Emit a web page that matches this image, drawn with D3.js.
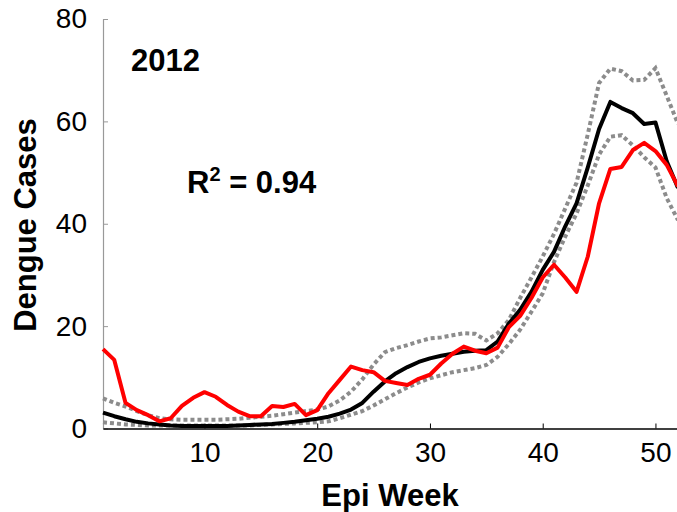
<!DOCTYPE html>
<html>
<head>
<meta charset="utf-8">
<script src="https://cdn.jsdelivr.net/npm/d3@7"></script>
<style>
  body { margin: 0; background: #fff; }
  #graphicContainer { width: 677px; height: 512px; }
  text { font-family: "Liberation Sans", Arial, sans-serif; }
</style>
</head>
<body>
<div id="graphicContainer"></div>
<script>

// epi weeks 1..52
var weeks = d3.range(1, 53);

// observed dengue cases (red)
var observed = [15.5, 13.4, 5.0, 3.6, 2.6, 1.4, 2.0, 4.4, 6.0, 7.1,
                6.2, 4.6, 3.3, 2.4, 2.4, 4.4, 4.2, 4.8, 2.6, 3.6,
                6.9, 9.5, 12.1, 11.4, 11.0, 9.3, 8.9, 8.5, 9.7, 10.5,
                12.7, 14.6, 16.0, 15.2, 14.7, 15.8, 19.8, 22.0, 25.5, 29.5,
                32.0, 29.5, 26.7, 33.6, 44.0, 50.7, 51.1, 54.4, 55.8, 54.2,
                51.5, 47.3];

// model mean (black)
var model = [3.1, 2.4, 1.8, 1.3, 1.0, 0.8, 0.6, 0.5, 0.5, 0.5,
             0.5, 0.5, 0.6, 0.7, 0.8, 0.9, 1.1, 1.3, 1.6, 1.9,
             2.3, 2.9, 3.7, 5.0, 7.2, 9.2, 10.8, 12.0, 13.0, 13.7,
             14.2, 14.6, 15.0, 15.2, 15.3, 17.0, 20.5, 23.2, 26.7, 31.0,
             34.5, 39.5, 44.0, 51.0, 58.5, 63.8, 62.6, 61.6, 59.5, 59.8,
             52.2, 47.0];

// upper bound (grey dashed)
var upper = [5.9, 5.0, 4.3, 3.4, 2.6, 2.0, 1.8, 1.7, 1.7, 1.7,
             1.7, 1.8, 1.9, 2.1, 2.3, 2.5, 2.8, 3.1, 3.4, 3.7,
             4.3, 5.5, 7.2, 9.6, 12.5, 14.9, 15.7, 16.3, 17.0, 17.6,
             17.8, 18.2, 18.6, 18.5, 17.2, 18.6, 21.2, 25.5, 29.5, 33.6,
             38.0, 43.0, 48.0, 57.5, 67.5, 70.3, 69.8, 68.0, 68.1, 70.4,
             65.0, 59.5];

// lower bound (grey dashed)
var lower = [1.2, 1.0, 0.8, 0.7, 0.6, 0.6, 0.6, 0.6, 0.6, 0.6,
             0.6, 0.6, 0.6, 0.6, 0.7, 0.8, 0.9, 1.0, 1.1, 1.2,
             1.4, 2.0, 2.7, 3.4, 4.5, 5.7, 6.9, 8.0, 9.0, 9.8,
             10.4, 11.0, 11.4, 11.8, 12.4, 14.0, 16.5, 19.3, 22.8, 26.4,
             32.5, 37.5, 42.0, 47.5, 53.5, 57.0, 57.3, 55.3, 53.0, 51.0,
             45.0, 40.7];

var xTicks = [10, 20, 30, 40, 50];
var yTicks = [0, 20, 40, 60, 80];

var margin = {top: 19, right: 0, bottom: 83.5, left: 103},
    w = 677, h = 512,
    width = 575,
    height = h - margin.top - margin.bottom;

var svg = d3.select("#graphicContainer").append("svg")
    .attr("width", w)
    .attr("height", h)
  .append("g")
    .attr("transform", "translate(" + margin.left + "," + margin.top + ")");

var x = d3.scaleLinear().domain([1, 52]).range([0, width]);
var y = d3.scaleLinear().domain([0, 80]).range([height, 0]);

function series(vals) {
    return vals.map(function(v, i) { return {week: weeks[i], value: v}; });
}

var line = d3.line()
    .x(function(d) { return x(d.week); })
    .y(function(d) { return y(d.value); });

// y axis (grey, inward ticks)
var yAxis = d3.axisLeft(y).tickValues(yTicks).tickSizeInner(-5).tickSizeOuter(0).tickPadding(16);
var gy = svg.append("g").attr("class", "y axis").call(yAxis);
gy.select(".domain").attr("stroke", "#999").attr("stroke-width", 1.2);
gy.selectAll(".tick line").attr("stroke", "#999");
gy.selectAll(".tick text")
    .attr("font-size", 28)
    .attr("fill", "#000")
    .attr("font-family", "Liberation Sans, Arial, sans-serif");

// x axis (black, inward ticks)
var xAxis = d3.axisBottom(x).tickValues(xTicks).tickSizeInner(-5).tickSizeOuter(0).tickPadding(14);
var gx = svg.append("g").attr("class", "x axis")
    .attr("transform", "translate(0," + height + ")")
    .call(xAxis);
gx.select(".domain").attr("stroke", "#000").attr("stroke-width", 1.6);
gx.selectAll(".tick line").attr("stroke", "#000");
gx.selectAll(".tick text")
    .attr("font-size", 28)
    .attr("fill", "#000")
    .attr("font-family", "Liberation Sans, Arial, sans-serif");

// bounds
[upper, lower].forEach(function(vals) {
    svg.append("path")
        .datum(series(vals))
        .attr("fill", "none")
        .attr("stroke", "#8c8c8c")
        .attr("stroke-width", 4)
        .attr("stroke-dasharray", "4,3")
        .attr("d", line);
});

svg.append("path")
    .datum(series(model))
    .attr("fill", "none")
    .attr("stroke", "#000")
    .attr("stroke-width", 4)
    .attr("stroke-linejoin", "round")
    .attr("d", line);

svg.append("path")
    .datum(series(observed))
    .attr("fill", "none")
    .attr("stroke", "#ff0000")
    .attr("stroke-width", 4)
    .attr("stroke-linejoin", "round")
    .attr("d", line);

// labels
var root = d3.select("#graphicContainer svg");

root.append("text")
    .attr("transform", "translate(36," + 225 + ") rotate(-90)")
    .attr("text-anchor", "middle")
    .attr("font-size", 31)
    .attr("font-weight", "bold")
    .text("Dengue Cases");

root.append("text")
    .attr("x", 390)
    .attr("y", 506)
    .attr("text-anchor", "middle")
    .attr("font-size", 31)
    .attr("font-weight", "bold")
    .text("Epi Week");

root.append("text")
    .attr("x", 131)
    .attr("y", 71)
    .attr("font-size", 31)
    .attr("font-weight", "bold")
    .text("2012");

var r2 = root.append("text")
    .attr("x", 187)
    .attr("y", 193)
    .attr("font-size", 31)
    .attr("font-weight", "bold");
r2.append("tspan").text("R");
r2.append("tspan").attr("font-size", 20).attr("dy", -12).text("2");
r2.append("tspan").attr("dy", 12).text(" = 0.94");

</script>
</body>
</html>
